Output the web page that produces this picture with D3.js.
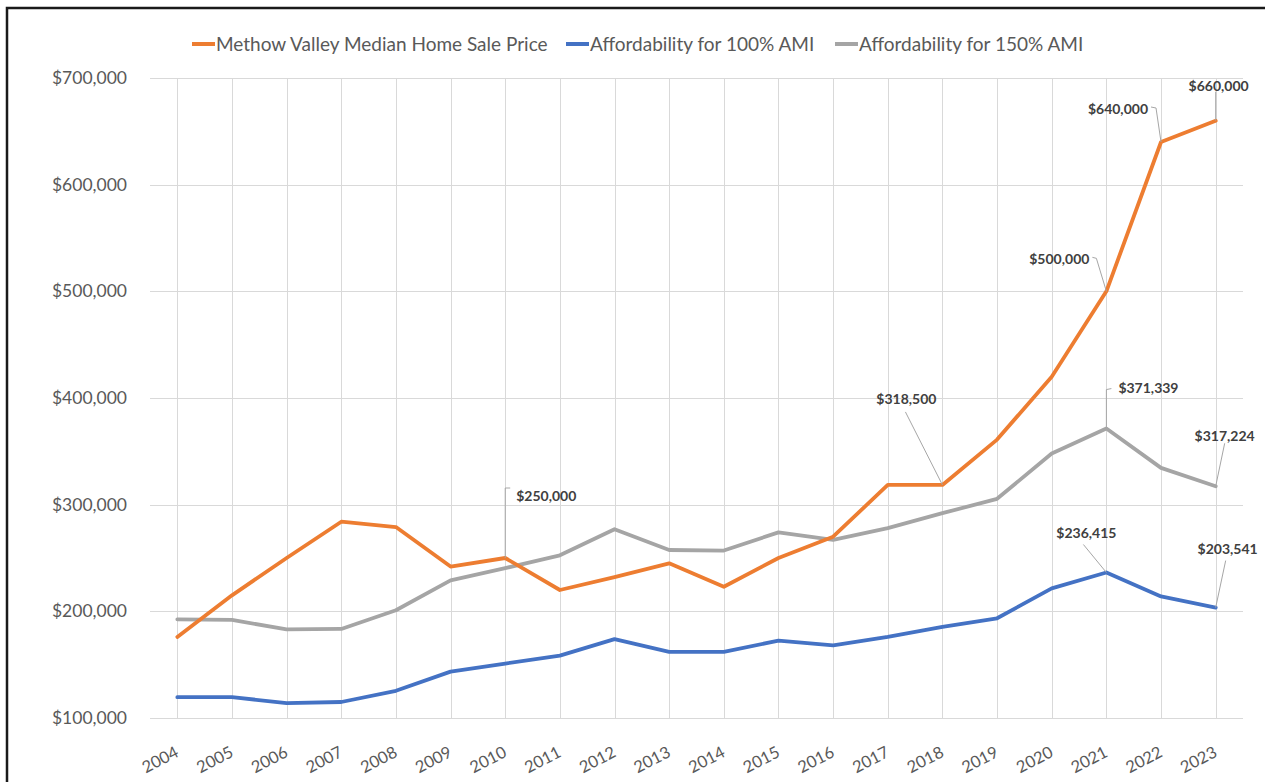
<!DOCTYPE html>
<html>
<head>
<meta charset="utf-8">
<script src="https://cdn.jsdelivr.net/npm/d3@7"></script>
<style>
  html, body { margin: 0; background: #fff; overflow: hidden; }
  svg { display: block; font-family: Lato, "Open Sans", sans-serif; }
</style>
</head>
<body>
<svg width="1265" height="782"></svg>
<script>
// chart data
const years = ['2004', '2005', '2006', '2007', '2008', '2009', '2010', '2011', '2012', '2013',
  '2014', '2015', '2016', '2017', '2018', '2019', '2020', '2021', '2022', '2023'];
const medianPrice = [176000, 215000, 250000, 284000, 279000, 242000, 250000, 220000, 232000, 245000,
  223000, 250000, 270000, 318500, 318500, 361000, 420000, 500000, 640000, 660000];
const ami100 = [119500, 119500, 114000, 115000, 125500, 143500, 151000, 158500, 174000, 162000,
  162000, 172500, 168000, 176000, 185500, 193500, 221500, 236415, 214000, 203541];
const ami150 = [192500, 192000, 183000, 183500, 201000, 229000, 240500, 252500, 277000, 257500,
  257000, 274000, 267000, 278000, 292000, 305500, 348000, 371339, 334500, 317224];
const yTicks = [100000, 200000, 300000, 400000, 500000, 600000, 700000];
const seriesNames = ['Methow Valley Median Home Sale Price', 'Affordability for 100% AMI', 'Affordability for 150% AMI'];

const series = [
  { name: seriesNames[0], values: medianPrice, color: '#ED7D31' },
  { name: seriesNames[1], values: ami100, color: '#4472C4' },
  { name: seriesNames[2], values: ami150, color: '#A5A5A5' },
];

// which points carry a data label, and where the label sits (layout only)
const labelled = [
  { s: 0, year: '2010', leader: [[0, 0], [0, -70], [5, -70]], dx: 11, dy: -62, anchor: 'start' },
  { s: 0, year: '2018', leader: [[0, 0], [-37, -73]], dx: -36, dy: -86, anchor: 'middle' },
  { s: 0, year: '2021', leader: [[0, 0], [-10, -33], [-14, -34]], dx: -17, dy: -32, anchor: 'end' },
  { s: 0, year: '2022', leader: [[0, 0], [-5, -34], [-10, -35]], dx: -13, dy: -33, anchor: 'end' },
  { s: 0, year: '2023', leader: [[0, 0], [0, -29]], dx: 3, dy: -35, anchor: 'middle' },
  { s: 2, year: '2021', leader: [[0, 0], [0, -39], [5, -40]], dx: 12, dy: -40, anchor: 'start' },
  { s: 2, year: '2023', leader: [[0, 0], [9, -43]], dx: 9, dy: -50, anchor: 'middle' },
  { s: 1, year: '2021', leader: [[0, 0], [-23, -28]], dx: -20, dy: -39, anchor: 'middle' },
  { s: 1, year: '2023', leader: [[0, 0], [10, -47]], dx: 12, dy: -58, anchor: 'middle' },
];

const svg = d3.select('svg');
const plot = { left: 150, right: 1243, top: 78, bottom: 718 };

const x = d3.scalePoint().domain(years).range([plot.left, plot.right]).padding(0.5);
const y = d3.scaleLinear().domain([100000, 700000]).range([plot.bottom, plot.top]);
const money = d3.format('$,');

// frame (only the top and left edges are inside the picture)
svg.append('path')
  .attr('d', 'M7,782 V8 H1265')
  .attr('fill', 'none')
  .attr('stroke', '#1a1a1a')
  .attr('stroke-width', 2.5);

// horizontal gridlines
svg.append('g')
  .attr('class', 'grid-y')
  .selectAll('line')
  .data(yTicks)
  .enter()
  .append('line')
  .attr('x1', plot.left)
  .attr('x2', plot.right)
  .attr('y1', d => Math.round(y(d)) + 0.5)
  .attr('y2', d => Math.round(y(d)) + 0.5)
  .attr('stroke', '#d9d9d9');

// vertical gridlines
svg.append('g')
  .attr('class', 'grid-x')
  .selectAll('line')
  .data(years)
  .enter()
  .append('line')
  .attr('x1', d => Math.round(x(d)) + 0.5)
  .attr('x2', d => Math.round(x(d)) + 0.5)
  .attr('y1', plot.top)
  .attr('y2', plot.bottom)
  .attr('stroke', '#d9d9d9');

// y axis labels
const yAxis = svg.append('g')
  .attr('transform', `translate(${plot.left},0)`)
  .call(d3.axisLeft(y).tickValues(yTicks).tickFormat(money).tickSize(0).tickPadding(23))
  .attr('font-family', null)
  .attr('font-size', null);
yAxis.select('.domain').remove();
yAxis.selectAll('text')
  .attr('fill', '#595959')
  .style('font-size', '17.5px');

// x axis labels
const xAxis = svg.append('g')
  .attr('transform', `translate(0,${plot.bottom})`)
  .call(d3.axisBottom(x).tickSize(0))
  .attr('font-family', null)
  .attr('font-size', null);
xAxis.select('.domain').remove();
xAxis.selectAll('text')
  .attr('fill', '#595959')
  .style('font-size', '16.5px')
  .attr('text-anchor', 'end')
  .attr('y', 0)
  .attr('dy', 0)
  .attr('transform', 'translate(2,38) rotate(-27)');

// lines
const line = d3.line()
  .x((d, i) => x(years[i]))
  .y(d => y(d));

svg.append('g')
  .attr('class', 'lines')
  .selectAll('path')
  .data([series[2], series[1], series[0]])
  .enter()
  .append('path')
  .attr('d', d => line(d.values))
  .attr('fill', 'none')
  .attr('stroke', d => d.color)
  .attr('stroke-width', 3.8)
  .attr('stroke-linejoin', 'round')
  .attr('stroke-linecap', 'round');

// data labels with leader lines
const labels = svg.append('g').attr('class', 'data-labels');
labelled.forEach(l => {
  const i = years.indexOf(l.year);
  const v = series[l.s].values[i];
  const px = x(l.year);
  const py = y(v);
  labels.append('path')
    .attr('d', d3.line()(l.leader.map(p => [px + p[0], py + p[1]])))
    .attr('fill', 'none')
    .attr('stroke', '#a6a6a6')
    .attr('stroke-width', 1);
  labels.append('text')
    .attr('x', px + l.dx)
    .attr('y', py + l.dy)
    .attr('dy', '0.35em')
    .attr('text-anchor', l.anchor)
    .attr('fill', '#404040')
    .style('font-size', '14px')
    .style('font-weight', 'bold')
    .text(money(v));
});

// legend
const legendPos = [192, 566, 835];
const legend = svg.append('g').attr('class', 'legend');
series.forEach((s, i) => {
  const g = legend.append('g').attr('transform', `translate(${legendPos[i]},44)`);
  g.append('line')
    .attr('x1', 0).attr('x2', 23)
    .attr('stroke', s.color)
    .attr('stroke-width', 4);
  g.append('text')
    .attr('x', 24)
    .attr('dy', '0.35em')
    .attr('fill', '#595959')
    .style('font-size', '19px')
    .text(s.name);
});
</script>
</body>
</html>
